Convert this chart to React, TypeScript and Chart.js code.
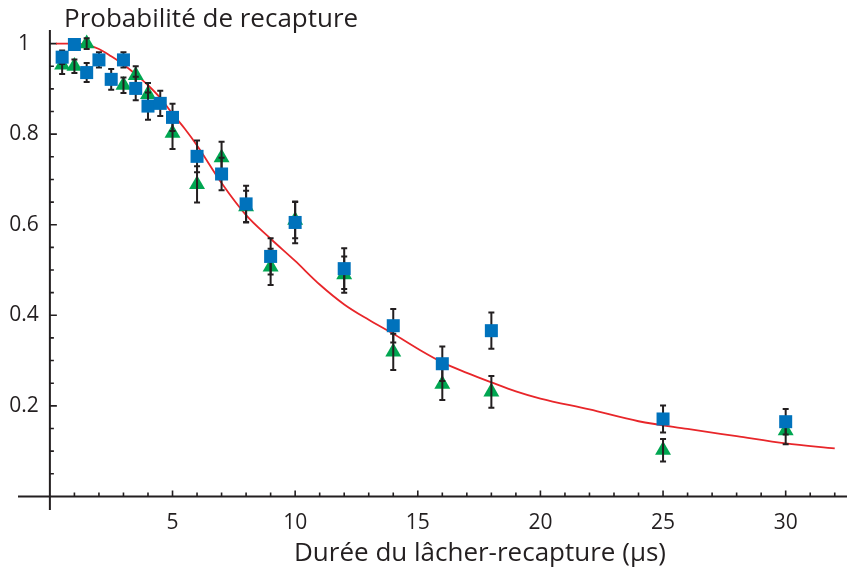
import React, { useEffect, useRef } from "react";
import { Chart, registerables } from "chart.js";

Chart.register(...registerables);

// Simulated recapture probability (red curve)
const curveX = [0.25, 1, 1.5, 2, 2.5, 3, 3.5, 4, 4.5, 5, 5.5, 6, 7, 8, 9, 10, 11, 12, 13, 14, 15, 16, 17, 18, 19, 20, 22, 24, 26, 28, 30, 32];
const curveY = [1.0, 1.0, 0.997, 0.988, 0.972, 0.954, 0.932, 0.908, 0.88, 0.845, 0.812, 0.775, 0.692, 0.621, 0.569, 0.52, 0.468, 0.424, 0.39, 0.359, 0.326, 0.296, 0.273, 0.252, 0.232, 0.216, 0.192, 0.166, 0.149, 0.133, 0.117, 0.106];

// Blue squares
const blueX = [0.5, 1, 1.5, 2, 2.5, 3, 3.5, 4, 4.5, 5, 6, 7, 8, 9, 10, 12, 14, 16, 18, 25, 30];
const blueY = [0.97, 0.998, 0.936, 0.964, 0.921, 0.964, 0.901, 0.862, 0.868, 0.837, 0.751, 0.712, 0.646, 0.53, 0.605, 0.503, 0.377, 0.293, 0.366, 0.171, 0.165];
const blueErr = [0.015, 0.012, 0.021, 0.017, 0.023, 0.017, 0.026, 0.03, 0.028, 0.03, 0.035, 0.036, 0.04, 0.04, 0.046, 0.045, 0.037, 0.038, 0.04, 0.03, 0.028];

// Green triangles
const greenX = [0.5, 1, 1.5, 3, 3.5, 4, 5, 6, 7, 8, 9, 10, 12, 14, 16, 18, 25, 30];
const greenY = [0.953, 0.95, 1.0, 0.908, 0.93, 0.888, 0.802, 0.689, 0.748, 0.64, 0.507, 0.61, 0.49, 0.319, 0.248, 0.231, 0.102, 0.145];
const greenErr = [0.02, 0.015, 0.012, 0.017, 0.02, 0.025, 0.035, 0.04, 0.035, 0.035, 0.04, 0.04, 0.04, 0.04, 0.035, 0.035, 0.025, 0.03];

// Axis tick labels
const xTickValues = [5, 10, 15, 20, 25, 30];
const yTickValues = [0.2, 0.4, 0.6, 0.8, 1];
const yTickLabels = ["0.2", "0.4", "0.6", "0.8", "1"];

const titleText = "Probabilité de recapture";
const xTitleText = "Durée du lâcher-recapture (μs)";

const INK = "#231f20";
const FONT = "'Open Sans', 'Noto Sans', sans-serif";

export default function App() {
  const ref = useRef<HTMLCanvasElement>(null);

  useEffect(() => {
    document.body.style.margin = "0";
    const canvas = ref.current!;
    const ctx = canvas.getContext("2d")!;

    const axesPlugin = {
      id: "customAxes",
      beforeDatasetsDraw(chart: any) {
        const c = chart.ctx;
        const xs = chart.scales.x;
        const ys = chart.scales.y;
        const x0 = xs.getPixelForValue(0);
        const y0 = ys.getPixelForValue(0);
        c.save();
        c.strokeStyle = INK;
        c.lineWidth = 2;
        c.beginPath();
        c.moveTo(xs.getPixelForValue(xs.min), y0);
        c.lineTo(xs.getPixelForValue(xs.max), y0);
        c.moveTo(x0, ys.getPixelForValue(ys.max));
        c.lineTo(x0, ys.getPixelForValue(ys.min));
        c.stroke();
        c.lineWidth = 1.6;
        c.beginPath();
        for (let i = 1; i <= 32; i++) {
          const px = xs.getPixelForValue(i);
          const len = i % 5 === 0 ? 6 : 4;
          c.moveTo(px, y0);
          c.lineTo(px, y0 - len);
        }
        for (let j = 1; j <= 20; j++) {
          const v = j * 0.05;
          const py = ys.getPixelForValue(v);
          const len = j % 4 === 0 || j === 20 ? 7 : 4;
          c.moveTo(x0, py);
          c.lineTo(x0 + len, py);
        }
        c.stroke();
        c.restore();
      },
      afterDraw(chart: any) {
        const c = chart.ctx;
        const xs = chart.scales.x;
        const ys = chart.scales.y;
        c.save();
        c.fillStyle = INK;
        c.font = `21px ${FONT}`;
        c.textAlign = "center";
        c.textBaseline = "middle";
        xTickValues.forEach((v) => {
          c.fillText(String(v), xs.getPixelForValue(v), 523);
        });
        yTickValues.forEach((v, i) => {
          c.fillText(yTickLabels[i], 24, ys.getPixelForValue(v));
        });
        c.textBaseline = "alphabetic";
        c.textAlign = "left";
        c.font = `26px ${FONT}`;
        c.fillText(titleText, 64, 27);
        c.textAlign = "center";
        c.font = `26px ${FONT}`;
        c.fillText(xTitleText, 480, 561);
        c.restore();
      },
    };

    const errPlugin = {
      id: "errBars",
      afterDatasetDraw(chart: any, args: any) {
        if (args.index !== 1) return;
        const c = chart.ctx;
        const xs = chart.scales.x;
        const ys = chart.scales.y;
        c.save();
        c.strokeStyle = INK;
        c.lineWidth = 2;
        const draw = (xv: number[], yv: number[], ev: number[]) => {
          xv.forEach((x, i) => {
            const px = xs.getPixelForValue(x);
            const top = ys.getPixelForValue(yv[i] + ev[i]);
            const bot = ys.getPixelForValue(yv[i] - ev[i]);
            c.beginPath();
            c.moveTo(px, top);
            c.lineTo(px, bot);
            c.moveTo(px - 3, top);
            c.lineTo(px + 3, top);
            c.moveTo(px - 3, bot);
            c.lineTo(px + 3, bot);
            c.stroke();
          });
        };
        draw(greenX, greenY, greenErr);
        draw(blueX, blueY, blueErr);
        c.restore();
      },
    };

    const chart = new Chart(ctx, {
      type: "scatter",
      data: {
        datasets: [
          {
            label: "blue",
            data: blueX.map((x, i) => ({ x, y: blueY[i] })),
            pointStyle: "rect",
            pointRadius: 9.2,
            backgroundColor: "#0072bc",
            borderWidth: 0,
            order: 1,
          },
          {
            label: "green",
            data: greenX.map((x, i) => ({ x, y: greenY[i] })),
            pointStyle: "triangle",
            pointRadius: 9.2,
            backgroundColor: "#00a651",
            borderWidth: 0,
            order: 2,
          },
          {
            label: "curve",
            type: "line",
            data: curveX.map((x, i) => ({ x, y: curveY[i] })),
            borderColor: "#e8262a",
            borderWidth: 1.8,
            pointRadius: 0,
            cubicInterpolationMode: "monotone",
            fill: false,
            order: 3,
          } as any,
        ],
      },
      options: {
        responsive: false,
        animation: false,
        events: [],
        layout: { autoPadding: false, padding: { left: 18, right: 0, top: 30, bottom: 60 } },
        plugins: { legend: { display: false }, tooltip: { enabled: false } },
        scales: {
          x: { type: "linear", min: -1.3, max: 32.5, display: false },
          y: { type: "linear", min: -0.03, max: 1.03, display: false },
        },
      },
      plugins: [axesPlugin, errPlugin],
    });
    return () => chart.destroy();
  }, []);

  return (
    <div style={{ position: "absolute", left: 0, top: 0, width: 847, height: 570 }}>
      <canvas ref={ref} width={847} height={570} style={{ width: 847, height: 570, display: "block" }} />
    </div>
  );
}
